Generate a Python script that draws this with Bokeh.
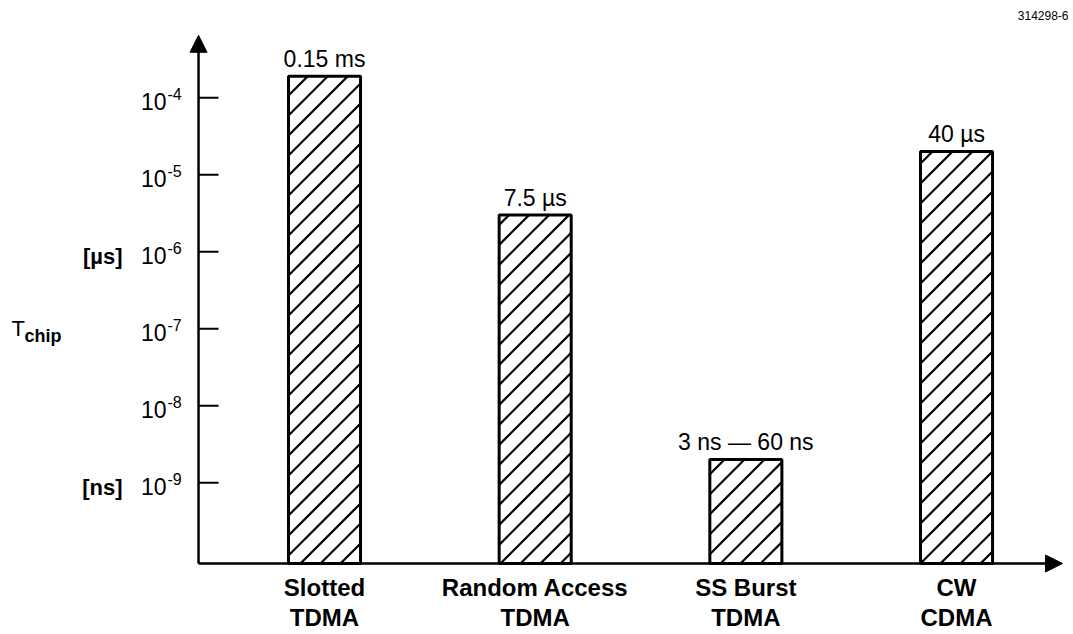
import math
from bokeh.plotting import figure
from bokeh.models import Range1d, Arrow, NormalHead
from bokeh.core.properties import value
from bokeh.embed import file_html
from bokeh.resources import INLINE

# ---- data ----
categories = ["Slotted\nTDMA", "Random Access\nTDMA", "SS Burst\nTDMA", "CW\nCDMA"]
t_chip = [1.9e-4, 3.0e-6, 2.0e-9, 2.0e-5]
bar_labels = ["0.15 ms", "7.5 µs", "3 ns \u2014 60 ns", "40 µs"]
tick_values = [1e-4, 1e-5, 1e-6, 1e-7, 1e-8, 1e-9]
tick_exponents = ["-4", "-5", "-6", "-7", "-8", "-9"]
unit_labels = ["", "", "[µs]", "", "", "[ns]"]

FONT = value("Liberation Sans")

# ---- layout constants ----
W_PX, H_PX = 1070, 632
X0, X1 = -1.538, 3.541
LOG_Y0, LOG_Y1 = -10.946, -2.738
base_log = -10.05
base = 10 ** base_log        # where the x axis sits
axis_x = -0.598              # where the y axis sits
bar_w = 0.342
hatch_gap = 20               # px, horizontal spacing of hatch lines
x_idx = list(range(len(categories)))

p = figure(width=W_PX, height=H_PX, output_backend="svg", toolbar_location=None,
           y_axis_type="log", x_axis_location=None, y_axis_location=None,
           x_range=Range1d(X0, X1),
           y_range=Range1d(10 ** LOG_Y0, 10 ** LOG_Y1),
           min_border=0, min_border_left=0, min_border_right=0,
           min_border_top=0, min_border_bottom=0)
p.outline_line_color = None
p.grid.visible = False
p.background_fill_color = "white"
p.border_fill_color = "white"

# bars (white fill)
p.vbar(x=x_idx, top=t_chip, bottom=base, width=bar_w,
       fill_color="white", line_color=None)

# 45-degree hatching clipped to each bar (computed in screen pixels)
ppx = W_PX / (X1 - X0)
ppd = H_PX / (LOG_Y1 - LOG_Y0)
hx0, hy0, hx1, hy1 = [], [], [], []
for xi, top in zip(x_idx, t_chip):
    xl = xi - bar_w / 2
    w = bar_w * ppx
    h = (math.log10(top) - base_log) * ppd
    off = ((xl - X0) * ppx) % hatch_gap
    c = -h - off
    c = -off - hatch_gap * math.ceil(h / hatch_gap)
    while c < w:
        u0 = max(0.0, c)
        u1 = min(w, h + c)
        if u1 > u0:
            hx0.append(xl + u0 / ppx)
            hy0.append(10 ** (base_log + (u0 - c) / ppd))
            hx1.append(xl + u1 / ppx)
            hy1.append(10 ** (base_log + (u1 - c) / ppd))
        c += hatch_gap
p.segment(x0=hx0, y0=hy0, x1=hx1, y1=hy1, line_color="black", line_width=2.2)

# bar outlines
p.vbar(x=x_idx, top=t_chip, bottom=base, width=bar_w,
       fill_color=None, line_color="black", line_width=3)

# bar value labels
p.text(x=x_idx, y=t_chip, text=bar_labels, text_align="center",
       text_baseline="middle", y_offset=-17, text_font=FONT,
       text_font_size="23px", text_color="black")

# axes with arrows
p.add_layout(Arrow(end=NormalHead(size=17, fill_color="black", line_color="black"),
                   x_start=axis_x, y_start=base, x_end=axis_x, y_end=10 ** -3.19,
                   line_width=2.5, line_color="black"))
p.add_layout(Arrow(end=NormalHead(size=17, fill_color="black", line_color="black"),
                   x_start=axis_x, y_start=base, x_end=3.503, y_end=base,
                   line_width=2.5, line_color="black"))

# y ticks (pointing inward)
p.segment(x0=[axis_x] * len(tick_values), y0=tick_values,
          x1=[axis_x + 20 / ppx] * len(tick_values), y1=tick_values,
          line_color="black", line_width=2)

# y tick labels 10^n
p.text(x=[axis_x] * len(tick_values), y=tick_values, text=["10"] * len(tick_values),
       text_align="right", text_baseline="middle", x_offset=-32, y_offset=4,
       text_font=FONT, text_font_size="23px", text_color="black")
p.text(x=[axis_x] * len(tick_values), y=tick_values, text=tick_exponents,
       text_align="left", text_baseline="middle", x_offset=-31, y_offset=-4,
       text_font=FONT, text_font_size="16px", text_color="black")
p.text(x=[axis_x] * len(tick_values), y=tick_values, text=unit_labels,
       text_align="right", text_baseline="middle", x_offset=-76, y_offset=5,
       text_font=FONT, text_font_size="22px", text_font_style="bold", text_color="black")

# axis title T_chip
p.text(x=[axis_x], y=[1e-7], text=["T"], text_align="left", text_baseline="middle",
       x_offset=-187, y_offset=0, text_font=FONT, text_font_size="22px", text_color="black")
p.text(x=[axis_x], y=[1e-7], text=["chip"], text_align="left", text_baseline="middle",
       x_offset=-174, y_offset=7, text_font=FONT, text_font_size="18px",
       text_font_style="bold", text_color="black")

# category labels
line1 = [c.split("\n")[0] for c in categories]
line2 = [c.split("\n")[1] for c in categories]
p.text(x=x_idx, y=[base] * len(x_idx), text=line1, text_align="center",
       text_baseline="middle", y_offset=24, text_font=FONT, text_font_size="24px",
       text_font_style="bold", text_color="black")
p.text(x=x_idx, y=[base] * len(x_idx), text=line2, text_align="center",
       text_baseline="middle", y_offset=54, text_font=FONT, text_font_size="24px",
       text_font_style="bold", text_color="black")

# figure id
p.text(x=[p.x_range.end], y=[p.y_range.end], text=["314298-6"], text_align="right",
       text_baseline="middle", x_offset=-2, y_offset=15, text_font=FONT,
       text_font_size="12px", text_color="black")

open("out.html", "w").write(file_html(p, INLINE))
